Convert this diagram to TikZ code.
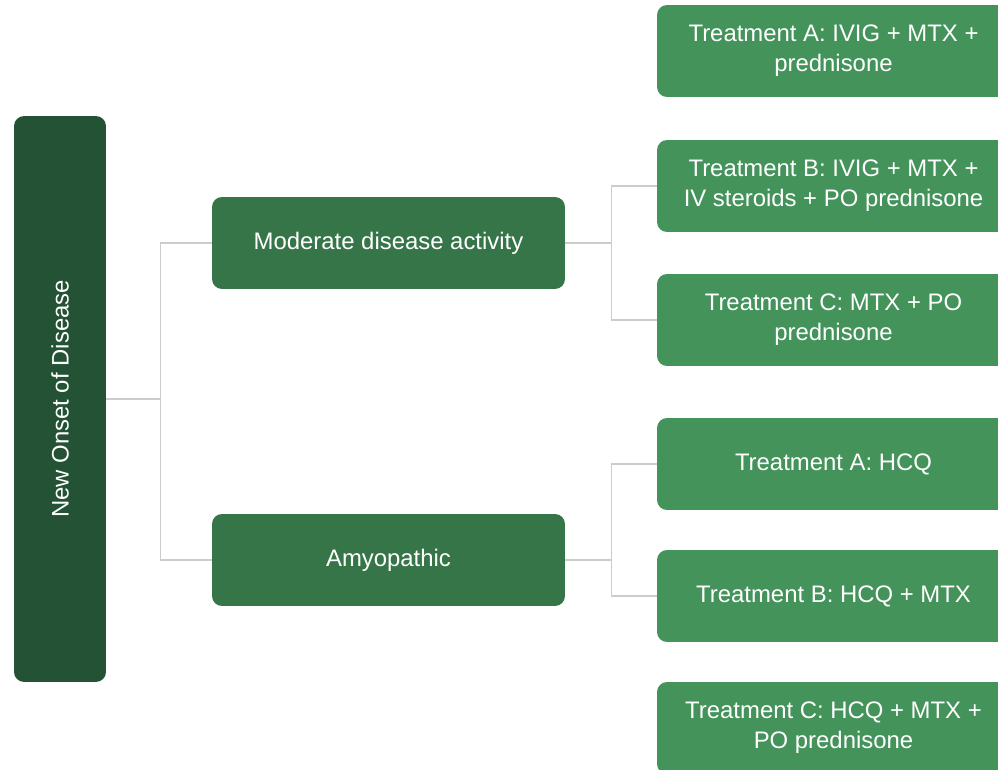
\documentclass[tikz,border=0pt]{standalone}
\usepackage{fontspec}
\setmainfont{Liberation Sans}
\usepackage{graphicx}
\definecolor{rootgreen}{RGB}{36,82,52}
\definecolor{midgreen}{RGB}{54,117,72}
\definecolor{leafgreen}{RGB}{67,147,90}
\definecolor{lineGrey}{RGB}{204,204,204}
\tikzset{
	box/.style={rectangle, rounded corners=0.2cm, text=white, align=center,
		font=\fontsize{13.6}{17}\selectfont, inner sep=0pt},
	rootbox/.style={box, fill=rootgreen, minimum width=1.84cm, minimum height=11.32cm},
	midbox/.style={box, fill=midgreen, minimum width=7.06cm, minimum height=1.84cm},
	leafbox/.style={box, fill=leafgreen, minimum width=7.06cm, minimum height=1.84cm},
	conn/.style={draw=lineGrey, line width=0.8pt}
}

\begin{document}
\begin{tikzpicture}[x=0.02cm, y=-0.02cm]
		%%%%% START %%%%%
		
		\useasboundingbox (0, 0) rectangle (998, 770);
		\clip (0, 0) rectangle (998, 770);
		
		% first level
		\node[rootbox] (root) at (60, 399) {\rotatebox{90}{New Onset of Disease}};
		
		% second level
		\node[midbox] (mod) at (388.5, 243) {Moderate disease activity};
		\node[midbox] (amy) at (388.5, 560) {Amyopathic};
		
		% treatments, moderate disease activity
		\node[leafbox] (modA) at (833.5, 51) {Treatment A: IVIG + MTX +\\prednisone};
		\node[leafbox] (modB) at (833.5, 186) {Treatment B: IVIG + MTX +\\IV steroids + PO prednisone};
		\node[leafbox] (modC) at (833.5, 320) {Treatment C: MTX + PO\\prednisone};
		
		% treatments, amyopathic
		\node[leafbox] (amyA) at (833.5, 464) {Treatment A: HCQ};
		\node[leafbox] (amyB) at (833.5, 596) {Treatment B: HCQ + MTX};
		\node[leafbox] (amyC) at (833.5, 728) {Treatment C: HCQ + MTX +\\PO prednisone};
		
		% connectors
		\draw[conn] (root.east) -- ++(54, 0) coordinate (j0) |- (mod.west);
		\draw[conn] (j0) |- (amy.west);
		
		\draw[conn] (mod.east) -- ++(46, 0) coordinate (j1) |- (modB.west);
		\draw[conn] (j1) |- (modC.west);
		
		\draw[conn] (amy.east) -- ++(46, 0) coordinate (j2) |- (amyA.west);
		\draw[conn] (j2) |- (amyB.west);
		
		%%%%% END %%%%%
	\end{tikzpicture}
\end{document}
